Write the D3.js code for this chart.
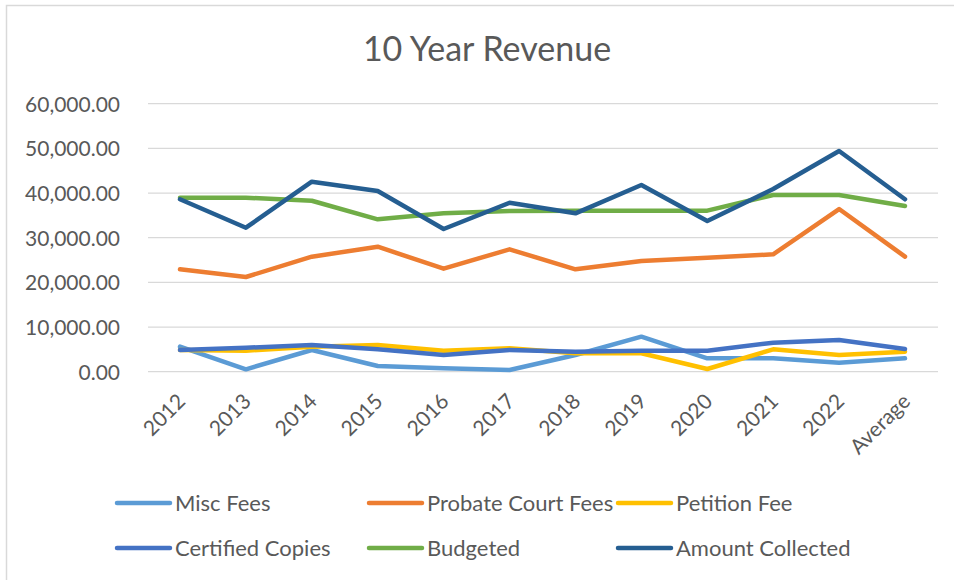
<!DOCTYPE html>
<html><head><meta charset="utf-8">
<script src="https://cdn.jsdelivr.net/npm/d3@7"></script>
<style>body{margin:0;background:#fff}svg{display:block}text{font-family:Lato,"Open Sans",sans-serif;fill:#595959}</style>
</head><body>
<svg id="c" width="954" height="580"></svg>
<script>
const categories = ["2012","2013","2014","2015","2016","2017","2018","2019","2020","2021","2022","Average"];
const miscFees     = [5600, 530, 4860, 1280, 750, 380, 3740, 7840, 3000, 3000, 2010, 3000];
const probateFees  = [22920, 21200, 25750, 27980, 23060, 27400, 22920, 24780, 25520, 26280, 36420, 25750];
const petitionFee  = [4860, 4700, 5600, 5980, 4700, 5240, 4120, 4120, 600, 5010, 3740, 4480];
const certified    = [4860, 5370, 5980, 5010, 3740, 4860, 4480, 4700, 4700, 6490, 7100, 5080];
const budgeted     = [38950, 38950, 38280, 34120, 35460, 35970, 36050, 36050, 36050, 39560, 39560, 37100];
const collected    = [38600, 32240, 42540, 40450, 31950, 37830, 35460, 41800, 33740, 40900, 49400, 38600];
const yTicks = [0, 10000, 20000, 30000, 40000, 50000, 60000];
const seriesNames = ["Misc Fees","Probate Court Fees","Petition Fee","Certified Copies","Budgeted","Amount Collected"];
const seriesColors = ["#5B9BD5","#ED7D31","#FFC000","#4472C4","#70AD47","#255E91"];
const seriesValues = [miscFees, probateFees, petitionFee, certified, budgeted, collected];

const svg = d3.select("#c");
// chart frame
svg.append("rect").attr("x",6.5).attr("y",5.5).attr("width",1000).attr("height",1000)
  .attr("fill","none").attr("stroke","#d9d9d9").attr("stroke-width",1.5);

const x = d3.scalePoint().domain(categories).range([180, 905]);
const y = d3.scaleLinear().domain([0, 60000]).range([371.7, 103.7]);
const plotLeft = 148, plotRight = 938;

// gridlines
svg.append("g").selectAll("line").data(yTicks).join("line")
  .attr("x1", plotLeft).attr("x2", plotRight)
  .attr("y1", d => y(d)).attr("y2", d => y(d))
  .attr("stroke", "#d9d9d9").attr("stroke-width", 1.3);

// y axis labels
const yAxis = d3.axisLeft(y).tickValues(yTicks).tickFormat(d3.format(",.2f")).tickSize(0).tickPadding(0);
const yg = svg.append("g").attr("transform","translate(120,0)").call(yAxis);
yg.select(".domain").remove();
yg.selectAll("text").style("font-size","21px").attr("fill","#595959").attr("dy","0.35em");

// x axis labels
const xAxis = d3.axisBottom(x).tickSize(0).tickPadding(0);
const xg = svg.append("g").attr("transform","translate(0,371.7)").call(xAxis);
xg.select(".domain").remove();
xg.selectAll("text").style("font-size","21px").attr("fill","#595959")
  .attr("text-anchor","end").attr("dy",null).attr("y",null)
  .attr("transform","translate(6,31) rotate(-45)");

// lines
const line = d3.line().x((d,i) => x(categories[i])).y(d => y(d));
svg.append("g").selectAll("path").data(seriesValues).join("path")
  .attr("d", d => line(d)).attr("fill","none")
  .attr("stroke", (d,i) => seriesColors[i]).attr("stroke-width",4.5)
  .attr("stroke-linejoin","round").attr("stroke-linecap","round");

// title
svg.append("text").attr("x",487).attr("y",61).attr("text-anchor","middle")
  .style("font-size","34px").text("10 Year Revenue");

// legend
const legX = [117, 369, 618], legY = [503, 548];
const leg = svg.append("g").selectAll("g").data(seriesNames).join("g")
  .attr("transform",(d,i)=>`translate(${legX[i%3]},${legY[Math.floor(i/3)]})`);
leg.append("line").attr("x1",0).attr("x2",53).attr("stroke",(d,i)=>seriesColors[i])
  .attr("stroke-width",4.5).attr("stroke-linecap","round");
leg.append("text").attr("x",58).attr("dy","0.35em").style("font-size","22px").text(d=>d);
</script>
</body></html>
